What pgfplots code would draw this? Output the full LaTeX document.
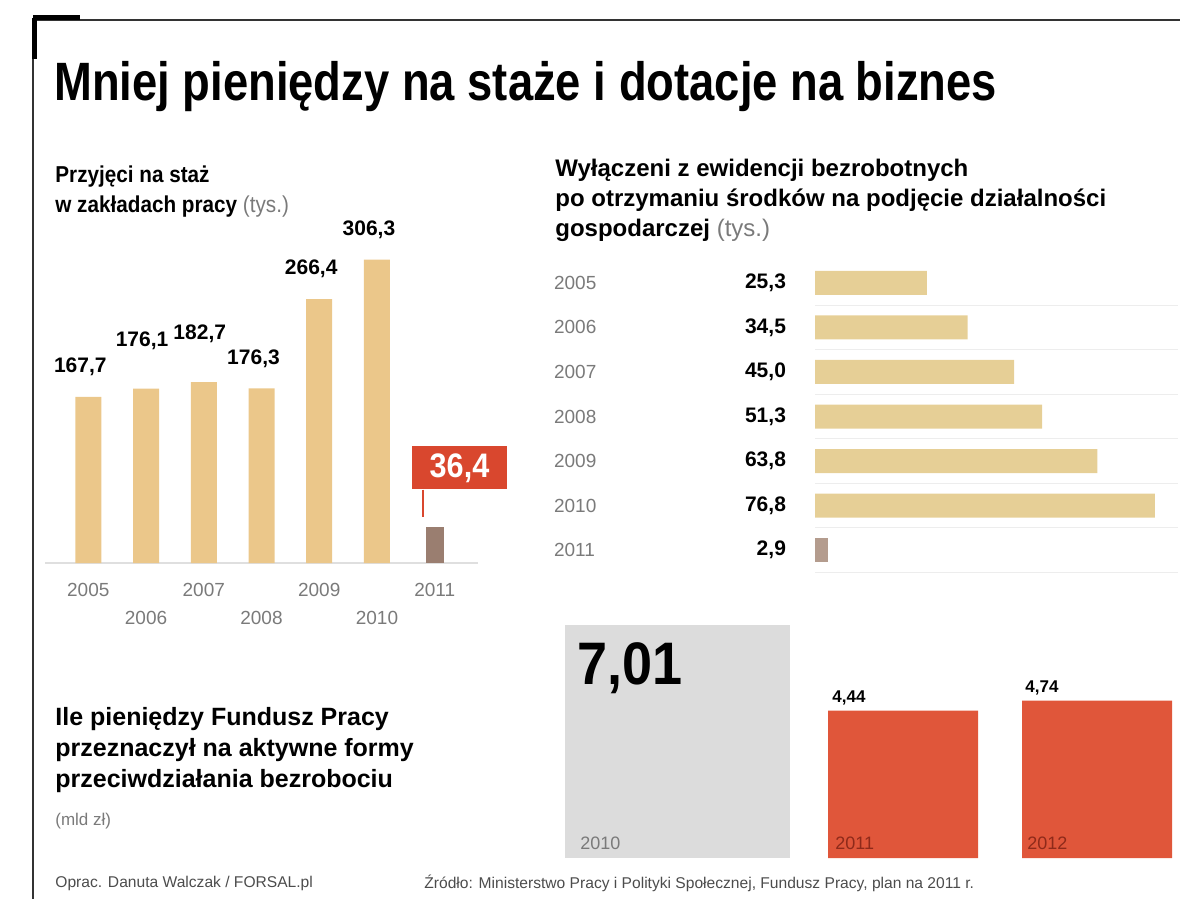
\documentclass[border=0pt]{standalone}
\usepackage{fontspec}
\setmainfont{Liberation Sans}
\newfontfamily\titlefont{Liberation Sans}[FakeStretch=0.84]
\newfontfamily\condfont{Liberation Sans}[FakeStretch=0.9]
\usepackage{pgfplots}
\pgfplotsset{compat=1.18}
\definecolor{tanbar}{HTML}{EBC78A}
\definecolor{tanbarb}{HTML}{E6CF96}
\definecolor{brownbar}{HTML}{9A7E70}
\definecolor{brownbarb}{HTML}{B49C8E}
\definecolor{redbar}{HTML}{E0563A}
\definecolor{darkred}{HTML}{8E2A1A}
\definecolor{calloutred}{HTML}{D9472E}
\definecolor{graybar}{HTML}{DCDCDC}
\definecolor{yeargray}{HTML}{7A7A7A}
\begin{document}
\begin{tikzpicture}
\path[use as bounding box] (0,0) rectangle (600pt,461.5pt);
% frame
\draw[line width=0.9pt, black!80] (16.5pt,451.5pt) -- (590pt,451.5pt);
\draw[line width=0.9pt, black!80] (16.5pt,451.5pt) -- (16.5pt,12pt);
\draw[line width=2.5pt, black] (16.5pt,452.5pt) -- (40pt,452.5pt);
\draw[line width=2.5pt, black] (17.3pt,452.5pt) -- (17.3pt,432pt);
% title
\node[anchor=base west, inner sep=0pt, font=\titlefont\bfseries\fontsize{27}{30}\selectfont]
  at (27pt,411pt) {Mniej pieniędzy na staże i dotacje na biznes};
% left subtitle
\node[anchor=north west, inner sep=0pt, align=left, font=\condfont\bfseries\fontsize{11.5}{15}\selectfont]
  at (27.5pt,379pt) {Przyjęci na staż\\w zakładach pracy {\mdseries\color{yeargray}(tys.)}};
% right subtitle
\node[anchor=north west, inner sep=0pt, align=left, font=\bfseries\fontsize{12}{15}\selectfont]
  at (277.5pt,382pt) {Wyłączeni z ewidencji bezrobotnych\\po otrzymaniu środków na podjęcie działalności\\gospodarczej {\mdseries\color{yeargray}(tys.)}};
% bottom-left text
\node[anchor=north west, inner sep=0pt, align=left, font=\bfseries\fontsize{12.5}{15.5}\selectfont]
  at (27.5pt,108pt) {Ile pieniędzy Fundusz Pracy\\przeznaczył na aktywne formy\\przeciwdziałania bezrobociu};
\node[anchor=north west, inner sep=0pt, font=\fontsize{8.5}{10}\selectfont, text=yeargray]
  at (27.5pt,55pt) {(mld zł)};
% footer
\node[anchor=west, inner sep=0pt, font=\fontsize{7.8}{9}\selectfont, text=black!70]
  at (27.5pt,20pt) {Oprac. Danuta Walczak / FORSAL.pl};
\node[anchor=west, inner sep=0pt, font=\fontsize{7.8}{9}\selectfont, text=black!70]
  at (212pt,20pt) {Źródło: Ministerstwo Pracy i Polityki Społecznej, Fundusz Pracy, plan na 2011 r.};

% ---------- left chart ----------
\begin{axis}[
  at={(22.5pt,180pt)}, anchor=south west,
  width=216.5pt, height=158.5pt, scale only axis,
  xmin=-0.75, xmax=6.75, ymin=0, ymax=320,
  axis x line*=bottom, axis y line=none,
  x axis line style={draw=gray!25, line width=0.6pt, -},
  major tick length=0pt,
  xtick={0,1,2,3,4,5,6},
  xticklabels={{\strut 2005},{\strut\\[1pt]\strut 2006},{\strut 2007},{\strut\\[1pt]\strut 2008},{\strut 2009},{\strut\\[1pt]\strut 2010},{\strut 2011}},
  xticklabel style={align=center, font=\fontsize{9.5}{13}\selectfont, text=yeargray, yshift=-4pt},
  ytick=\empty,
  clip=false,
]
\addplot[ybar, bar shift=0pt, bar width=13pt, fill=tanbar, draw=none,
  nodes near coords, point meta=explicit symbolic,
  every node near coord/.append style={font=\bfseries\fontsize{10.5}{12}\selectfont, text=black, yshift=7pt, xshift=-4pt}]
  coordinates {(0,167.7)[167,7] (3,176.3)[176,3] (4,266.4)[266,4] (5,306.3)[306,3]};
\addplot[ybar, bar shift=0pt, bar width=13pt, fill=tanbar, draw=none,
  nodes near coords, point meta=explicit symbolic,
  every node near coord/.append style={font=\bfseries\fontsize{10.5}{12}\selectfont, text=black, yshift=16pt, xshift=-2pt}]
  coordinates {(1,176.1)[176,1] (2,182.7)[182,7]};
\addplot[ybar, bar shift=0pt, bar width=9pt, fill=brownbar, draw=none]
  coordinates {(6,36.4)};
\draw[calloutred, line width=1.2pt] (axis cs:5.8,74) -- (axis cs:5.8,46);
\node[anchor=south west, fill=calloutred, text=white, inner sep=0pt, minimum width=47.5pt, minimum height=21.5pt,
  font=\condfont\bfseries\fontsize{17}{19}\selectfont] at (axis cs:5.6,74) {36,4};
\end{axis}

% ---------- right chart ----------
\begin{axis}[
  at={(407.5pt,173pt)}, anchor=south west,
  width=181.5pt, height=160.5pt, scale only axis,
  xmin=0, xmax=82, ymin=-0.6, ymax=6.6, y dir=reverse,
  axis lines=left, axis line style={draw=none},
  major tick length=0pt, minor tick length=0pt,
  xtick=\empty,
  ytick={0,1,2,3,4,5,6},
  yticklabels={{25,3},{34,5},{45,0},{51,3},{63,8},{76,8},{2,9}},
  yticklabel style={font=\bfseries\fontsize{10.5}{12}\selectfont, text=black, xshift=-11pt},
  extra y ticks={0,1,2,3,4,5,6},
  extra y tick labels={2005,2006,2007,2008,2009,2010,2011},
  extra y tick style={yticklabel style={font=\mdseries\fontsize{9.5}{12}\selectfont, text=yeargray, anchor=west, xshift=-123pt}},
  minor ytick={0.5,1.5,2.5,3.5,4.5,5.5,6.5},
  yminorgrids, minor grid style={gray!14, line width=0.5pt},
  clip=false,
]
\addplot[xbar, bar shift=0pt, bar width=12pt, fill=tanbarb, draw=none]
  coordinates {(25.3,0) (34.5,1) (45.0,2) (51.3,3) (63.8,4) (76.8,5)};
\addplot[xbar, bar shift=0pt, bar width=12pt, fill=brownbarb, draw=none]
  coordinates {(2.9,6)};
\end{axis}

% ---------- bottom chart ----------
\begin{axis}[
  at={(277.5pt,32.5pt)}, anchor=south west,
  width=312.5pt, height=119.5pt, scale only axis,
  xmin=555, xmax=1180, ymin=0, ymax=7.2,
  hide axis, clip=false,
]
\addplot[ybar, bar shift=0pt, bar width=225, fill=graybar, draw=none]
  coordinates {(677.5,7.01)};
\addplot[ybar, bar shift=0pt, bar width=150, fill=redbar, draw=none]
  coordinates {(903,4.44) (1097,4.74)};
\node[anchor=north west, inner sep=0pt, font=\condfont\bfseries\fontsize{30}{32}\selectfont] at (axis cs:577,6.5) {7,01};
\node[anchor=south west, inner sep=0pt, font=\fontsize{9}{10}\selectfont, text=yeargray] at (axis cs:580,0.25) {2010};
\node[anchor=south west, inner sep=0pt, font=\bfseries\fontsize{8.5}{10}\selectfont] at (axis cs:832,4.6) {4,44};
\node[anchor=south west, inner sep=0pt, font=\bfseries\fontsize{8.5}{10}\selectfont] at (axis cs:1025,4.9) {4,74};
\node[anchor=south west, inner sep=0pt, font=\fontsize{9}{10}\selectfont, text=darkred] at (axis cs:835,0.25) {2011};
\node[anchor=south west, inner sep=0pt, font=\fontsize{9}{10}\selectfont, text=darkred] at (axis cs:1027,0.25) {2012};
\end{axis}
\end{tikzpicture}
\end{document}
